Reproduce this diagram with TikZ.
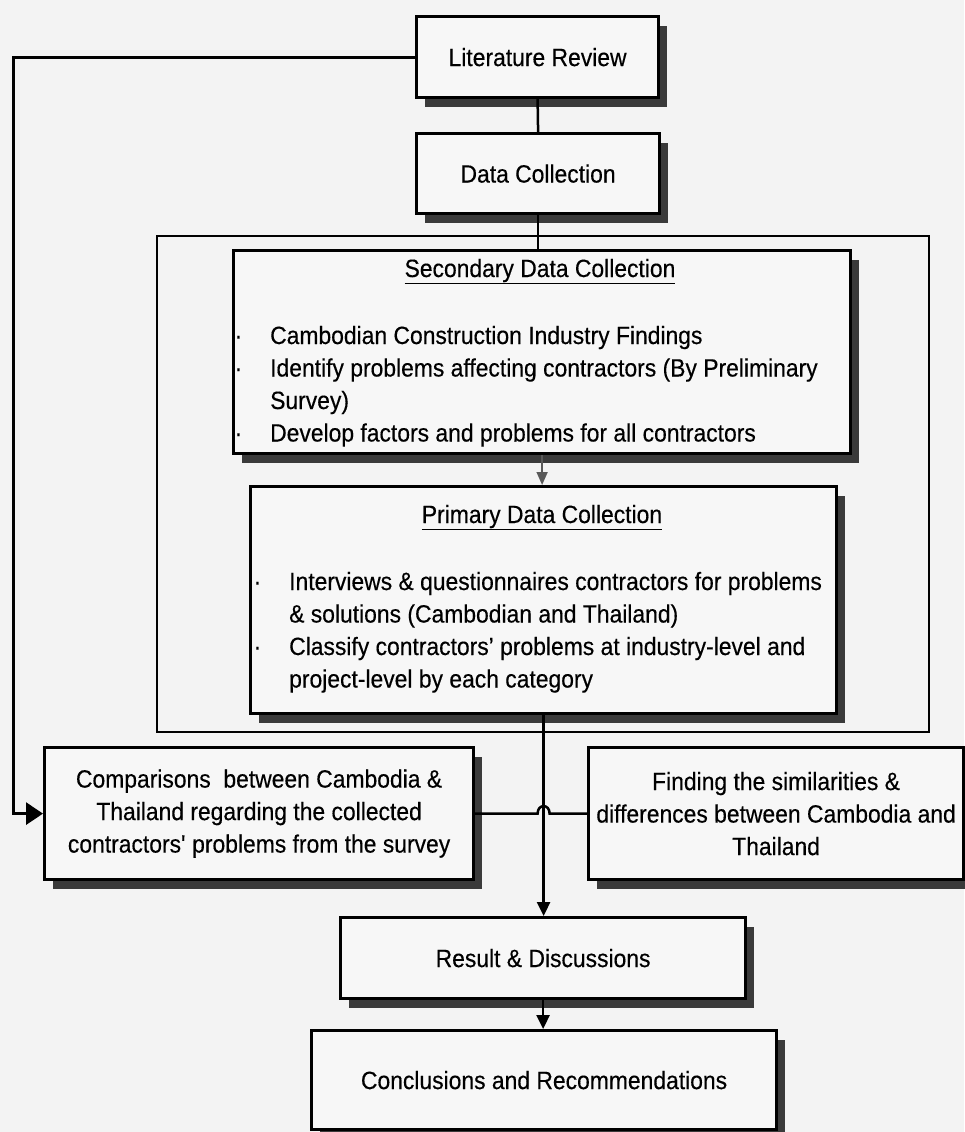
\documentclass[tikz,border=0pt]{standalone}
\usepackage{fontspec}
\setmainfont{Liberation Sans}[FakeStretch=0.915,FakeBold=0.35]
\usetikzlibrary{shadows,arrows.meta,calc}
\definecolor{bgc}{HTML}{F3F3F3}
\definecolor{boxc}{HTML}{F7F7F7}
\definecolor{shc}{HTML}{3A3A3A}
\newcommand\bul{\llap{\textperiodcentered\hspace{28pt}}}
\begin{document}
\begin{tikzpicture}[x=1pt,y=-1pt,
  box/.style={draw=black, line width=3.2pt, fill=boxc, inner sep=0pt, align=center,
    font=\fontsize{25}{32.5}\selectfont,
    drop shadow={shadow xshift=8pt, shadow yshift=-9pt, opacity=1, fill=shc}},
  txt/.style={inner sep=0pt, font=\fontsize{25}{32.5}\selectfont},
  conn/.style={line width=2.5pt},
  arr/.style={conn, -{Triangle[length=14pt,width=13pt]}},
]
\fill[bgc] (0,0) rectangle (964,1132);
\useasboundingbox (0,0) rectangle (964,1132);

\node[box, minimum width=242pt, minimum height=81pt, anchor=north west] (lit) at (415,15) {Literature Review};
\node[box, minimum width=243pt, minimum height=80pt, anchor=north west] (data) at (415,132) {Data Collection};
\node[draw, line width=1.5pt, minimum width=772pt, minimum height=496pt, anchor=north west, inner sep=0pt] (frame) at (156,235) {};
\node[box, minimum width=617pt, minimum height=203pt, anchor=north west] (sec) at (232,249) {};
\node[box, minimum width=586pt, minimum height=227pt, anchor=north west] (prim) at (249,485) {};
\node[box, minimum width=429pt, minimum height=132pt, anchor=north west] (comp) at (43,746)
  {Comparisons\ \ between Cambodia \&\\Thailand regarding the collected\\contractors\textquotesingle\ problems from the survey};
\node[box, minimum width=375pt, minimum height=132pt, anchor=north west] (find) at (587,746)
  {Finding the similarities \&\\differences between Cambodia and\\Thailand};
\node[box, minimum width=405pt, minimum height=81pt, anchor=north west] (res) at (339,916) {Result \& Discussions};
\node[box, minimum width=465pt, minimum height=99pt, anchor=north west] (conc) at (310,1029) {Conclusions and Recommendations};

% Secondary text
\node[txt, anchor=base] (sect) at (540,277) {\underline{Secondary Data Collection}};
\node[txt, anchor=base west] (s1) at (270,344) {\bul Cambodian Construction Industry Findings};
\node[txt, anchor=base west] (s2) at (270,376.5) {\bul Identify problems affecting contractors (By Preliminary};
\node[txt, anchor=base west] (s3) at (270,409) {Survey)};
\node[txt, anchor=base west] (s4) at (270,441.5) {\bul Develop factors and problems for all contractors};

% Primary text
\node[txt, anchor=base] (pt) at (542,523) {\underline{Primary Data Collection}};
\node[txt, anchor=base west] (p1) at (289,590) {\bul Interviews \& questionnaires contractors for problems};
\node[txt, anchor=base west] (p2) at (289,622.5) {\& solutions (Cambodian and Thailand)};
\node[txt, anchor=base west] (p3) at (289,655) {\bul Classify contractors’ problems at industry-level and};
\node[txt, anchor=base west] (p4) at (289,687.5) {project-level by each category};

% connectors
\draw[conn] (lit.south) -- (data.north);
\draw[conn] (data.south) -- (data.south |- sec.north);
\draw[line width=1.6pt, black!65, -{Triangle[length=13pt,width=11pt]}] (sec.south) -- (sec.south |- prim.north);
\draw[arr] (prim.south) -- (prim.south |- res.north);
\draw[conn] (comp.east) -- ($(prim.south |- comp.east)+(-6,0)$)
  .. controls +(0,-10) and +(0,-10) .. ($(prim.south |- comp.east)+(6,0)$) -- (find.west);
\draw[arr] (res.south) -- (res.south |- conc.north);
\coordinate (fb) at (13,400);
\draw[line width=3pt, -{Triangle[length=17pt,width=22pt]}] (lit.west) -| (fb) |- (comp.west);
\end{tikzpicture}
\end{document}
